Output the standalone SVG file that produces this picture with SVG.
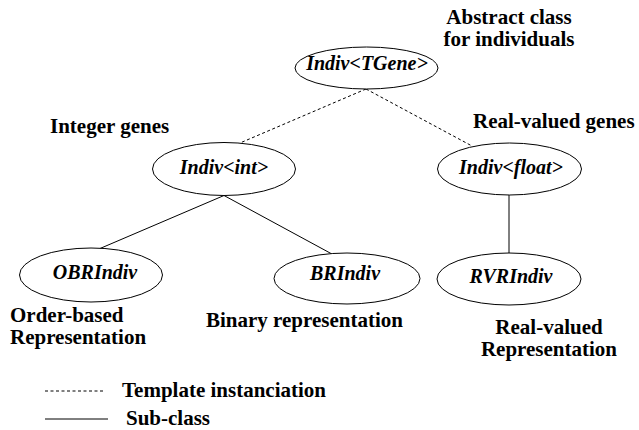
<svg xmlns="http://www.w3.org/2000/svg" width="639" height="430" viewBox="0 0 639 430">
<style>
.bg{fill:#fff}
.node{fill:#fff;stroke:#000;stroke-width:1}
.nl{font-family:"Liberation Serif","Times New Roman",serif;font-weight:bold;font-style:italic;font-size:20px;text-anchor:middle;fill:#000}
.lbl{font-family:"Liberation Serif","Times New Roman",serif;font-weight:bold;font-size:21px;fill:#000}
.dash{stroke:#000;stroke-width:1;stroke-dasharray:3,2.5;fill:none}
.solid{stroke:#000;stroke-width:1;fill:none}
</style>
<rect class="bg" x="0" y="0" width="639" height="430"/>
<g id="connectors">
<line class="dash" x1="366" y1="89" x2="240" y2="143"/>
<line class="dash" x1="366" y1="89" x2="472" y2="146"/>
<line class="solid" x1="224" y1="195.5" x2="100" y2="248.5"/>
<line class="solid" x1="224" y1="195.5" x2="331" y2="253.5"/>
<line class="solid" x1="509" y1="195" x2="509" y2="253"/>
</g>
<g id="tgene">
<ellipse class="node" cx="366.5" cy="68" rx="71.5" ry="21"/>
<text class="nl" x="367" y="70">Indiv&lt;TGene&gt;</text>
</g>
<g id="int">
<ellipse class="node" cx="224" cy="169" rx="71.5" ry="26.5"/>
<text class="nl" x="224" y="174">Indiv&lt;int&gt;</text>
</g>
<g id="float">
<ellipse class="node" cx="509.5" cy="169" rx="72" ry="26"/>
<text class="nl" x="511" y="174">Indiv&lt;float&gt;</text>
</g>
<g id="obr">
<ellipse class="node" cx="91" cy="275" rx="71.5" ry="27"/>
<text class="nl" x="95" y="279">OBRIndiv</text>
</g>
<g id="br">
<ellipse class="node" cx="347" cy="278.5" rx="73" ry="25.5"/>
<text class="nl" x="345" y="280">BRIndiv</text>
</g>
<g id="rvr">
<ellipse class="node" cx="509" cy="279" rx="72" ry="26"/>
<text class="nl" x="511" y="283">RVRIndiv</text>
</g>
<g id="labels">
<text class="lbl" x="509" y="24" text-anchor="middle">Abstract class</text>
<text class="lbl" x="509" y="46" text-anchor="middle">for individuals</text>
<text class="lbl" x="50" y="133">Integer genes</text>
<text class="lbl" x="473" y="128">Real-valued genes</text>
<text class="lbl" x="10" y="322">Order-based</text>
<text class="lbl" x="10" y="344">Representation</text>
<text class="lbl" x="206" y="327">Binary representation</text>
<text class="lbl" x="549" y="334" text-anchor="middle">Real-valued</text>
<text class="lbl" x="549" y="356" text-anchor="middle">Representation</text>
</g>
<g id="legend">
<line class="dash" x1="45" y1="391" x2="104" y2="391"/>
<text class="lbl" x="122" y="397">Template instanciation</text>
<line class="solid" x1="45" y1="419" x2="108" y2="419"/>
<text class="lbl" x="126" y="425">Sub-class</text>
</g>
</svg>
